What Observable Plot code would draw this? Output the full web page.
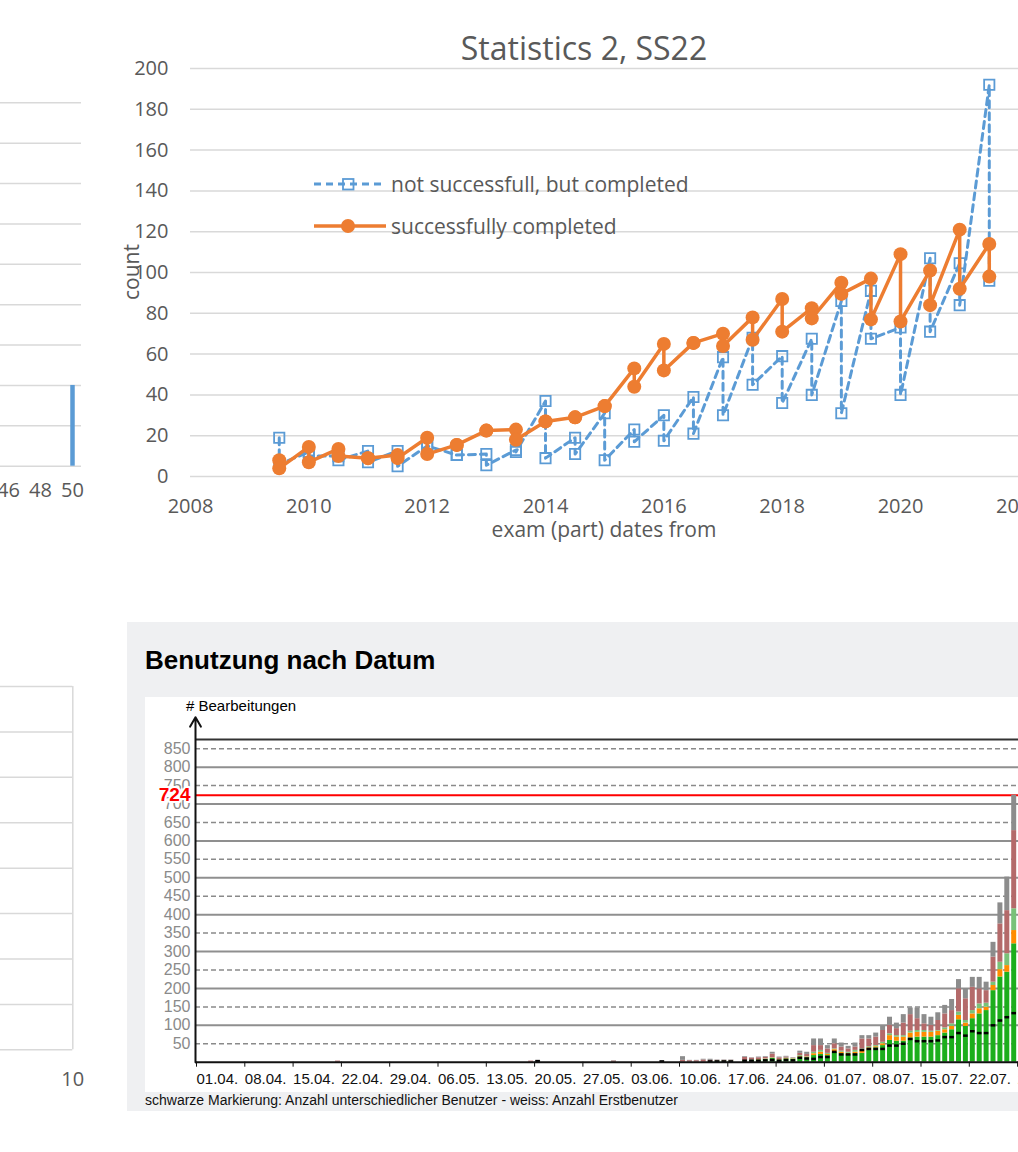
<!DOCTYPE html>
<html><head><meta charset="utf-8">
<script src="https://cdn.jsdelivr.net/npm/d3@7"></script>
<script src="https://cdn.jsdelivr.net/npm/@observablehq/plot@0.6"></script>
<style>
html,body{margin:0;padding:0;width:1018px;height:1152px;overflow:hidden;background:#fff}
body{position:relative}
.abs{position:absolute}
svg{overflow:visible}
</style></head><body>

<div id="cA" class="abs" style="left:0;top:0;width:200px"></div>
<div id="cC" class="abs" style="left:0;top:640px;width:200px"></div>
<div id="panel" class="abs" style="left:127px;top:622px;width:900px;height:489px;background:#eff0f2"></div>
<div class="abs" style="left:145px;top:697px;width:880px;height:395px;background:#fff"></div>
<div class="abs" style="left:145px;top:645px;font:bold 26px 'Liberation Sans',Arial,sans-serif;color:#000;white-space:nowrap">Benutzung nach Datum</div>
<div class="abs" style="left:186px;top:697px;font:15px 'Liberation Sans Narrow','Arial Narrow',sans-serif;color:#000;white-space:nowrap"># Bearbeitungen</div>
<div id="cD" class="abs" style="left:145px;top:697px;width:1000px"></div>
<div class="abs" style="left:145px;top:1092px;font:14px 'Liberation Sans',Arial,sans-serif;color:#111;white-space:nowrap">schwarze Markierung: Anzahl unterschiedlicher Benutzer - weiss: Anzahl Erstbenutzer</div>
<div id="cB" class="abs" style="left:0;top:0;width:1200px"></div>
<svg id="overlay" class="abs" style="left:0;top:0" width="1018" height="1152"></svg>

<script>
// ---------- Chart A (partial, top-left) ----------
const aTicks = [46, 48, 50];
const aGrid = [0, 1, 2, 3, 4, 5, 6, 7, 8, 9];
const aBarX = [50];
const aBarY = [2];

// ---------- Chart B: Statistics 2, SS22 ----------
const title = "Statistics 2, SS22";
const seriesNames = ["not successfull, but completed", "successfully completed"];
const examDates = [2009.5,2009.5,2010,2010,2010.5,2010.5,2011,2011,2011.5,2011.5,
  2012,2012,2012.5,2012.5,2013,2013,2013.5,2013.5,2014,2014,2014.5,2014.5,
  2015,2015,2015.5,2015.5,2016,2016,2016.5,2016.5,2017,2017,2017.5,2017.5,
  2018,2018,2018.5,2018.5,2019,2019,2019.5,2019.5,2020,2020,2020.5,2020.5,
  2021,2021,2021.5,2021.5];
const notSuccessful = [19,6, 12,10, 10,8, 12.5,7, 12.5,5, 15,15, 10.5,10.5, 11,5.5, 13,12,
  37,9, 19,11, 31,8, 23,17, 30,17.5, 39,21, 58.5,30, 68,45, 59,36, 67.5,40,
  86,31, 91,67.5, 73,40, 107,71, 104.5,84, 192,96];
const successful = [8,4, 14.5,7, 13.5,10, 9,9, 10.5,9, 19,11, 15.5,15.5, 22.5,22.5, 23,18,
  27,27, 29,29, 34.5,34.5, 53,44, 65,52, 65.5,65.5, 70,64, 78,67, 87,71, 82.5,77.5,
  95,89.5, 97,77, 109,76, 101,84, 121,92, 114,98];
const bYTicks = [0,20,40,60,80,100,120,140,160,180,200];
const bXTicks = [2008,2010,2012,2014,2016,2018,2020,2022,2024];

// ---------- Chart C (partial, bottom-left) ----------
const cGrid = [0,1,2,3,4,5,6,7,8];
const cTicks = [10];

// ---------- Chart D: Benutzung nach Datum ----------
const usageDates = ["21.04.","19.05.","20.05.","31.05.","07.06.","10.06.","11.06.","12.06.","13.06.",
  "14.06.","15.06.","16.06.","17.06.","19.06.","20.06.","21.06.","22.06.","23.06.","24.06.",
  "25.06.","26.06.","27.06.","28.06.","29.06.","30.06.","01.07.","02.07.","03.07.","04.07.",
  "05.07.","06.07.","07.07.","08.07.","09.07.","10.07.","11.07.","12.07.","13.07.","14.07.",
  "15.07.","16.07.","17.07.","18.07.","19.07.","20.07.","21.07.","22.07.","23.07.","24.07.",
  "25.07.","26.07.","27.07.","28.07."];
const greenVals  = [0,0,0,0,0,0,0,0,0, 2,3,3,3,4,5,6,7,10,6, 9,8,14,12,18,21,18,27,23,21,
  23,24,33,39,45,59,57,57,66,68, 68,68,72,79,88,115,97,118,131,140, 194,231,244,321];
const orangeVals = [0,0,0,0,0,0,0,0,0, 0,0,0,0,0,0,1,1,1,1, 1,1,2,2,5,6,3,7,4,3,
  4,8,6,3,5,13,11,11,13,13, 13,13,12,9,9,12,9,13,14,9, 14,20,18,36];
const lightVals  = [0,0,0,0,0,0,0,0,0, 0,0,0,0,0,1,0,1,1,0, 1,1,2,1,4,5,3,2,3,3,
  5,4,3,3,4,5,4,4,5,5, 5,3,2,5,7,9,7,9,13,11, 9,20,32,59];
const brownVals  = [3,3,1,3,1,5,4,4,6, 3,2,2,2,9,5,5,4,10,5, 3,1,6,6,18,13,12,14,11,9,
  9,27,21,23,32,23,19,34,45,32, 18,16,27,38,36,63,59,63,41,34, 68,104,117,212];
const grayVals   = [0,0,3,1,2,10,1,1,2, 3,1,1,1,2,1,2,2,5,2, 2,1,6,6,18,18,9,13,11,7,
  11,9,9,11,11,22,15,23,18,29, 25,22,21,23,30,25,27,27,31,23, 40,57,91,96];
const userVals   = [0,0,3,0,2,0,0,0,0, 2,2,2,2,4,4,4,5,6,4, 6,5,12,10,9,14,14,28,21,21,
  21,33,36,36,36,45,45,50,63,57, 57,57,59,68,68,79,72,84,79,79, 100,113,122,133];
const maxValue = [724];
const dYSolid = [100,200,300,400,500,600,700,800];
const dYDashed = [50,150,250,350,450,550,650,750,850];
const dYLabels = [50,100,150,200,250,300,350,400,450,500,550,600,650,700,750,800,850];
const dXTicks = ["01.04.","08.04.","15.04.","22.04.","29.04.","06.05.","13.05.","20.05.","27.05.",
  "03.06.","10.06.","17.06.","24.06.","01.07.","08.07.","15.07.","22.07.","29.07."];

const C = {blue:"#5b9bd5", orange:"#ed7d31", text:"#595959", grid:"#d9d9d9"};
const font = "'Open Sans', 'Noto Sans', sans-serif";
const baseStyle = {fontFamily: font, fontSize: "20px", color: C.text, background: "transparent", maxWidth: "none", overflow: "visible"};

// ===== Chart A =====
{
  const p = Plot.plot({
    width: 100, height: 540, marginLeft: 0, marginRight: 19, marginTop: 102.3, marginBottom: 74.3,
    x: {domain: [45.5, 50.5625]}, y: {domain: [0, 9]},
    style: baseStyle,
    marks: [
      Plot.ruleY(aGrid, {stroke: C.grid, strokeWidth: 1.5}),
      Plot.ruleX(aBarX, {x: d => d, y1: 0, y2: (d, i) => aBarY[i], stroke: C.blue, strokeWidth: 4.5}),
      Plot.axisX({ticks: aTicks, tickSize: 0, tickPadding: 17, tickFormat: d => String(d), label: null}),
      Plot.axisY({ticks: [], label: null})
    ]
  });
  document.getElementById("cA").append(p);
}

// ===== Chart B =====
{
  const blueRows = examDates.map((d, i) => ({date: d, v: notSuccessful[i]}));
  const orangeRows = examDates.map((d, i) => ({date: d, v: successful[i]}));
  const p = Plot.plot({
    width: 1140, height: 560, marginLeft: 190, marginRight: 3.3, marginTop: 68, marginBottom: 84,
    x: {domain: [2008, 2024]}, y: {domain: [0, 200]},
    style: baseStyle,
    marks: [
      Plot.ruleY(bYTicks, {stroke: C.grid, strokeWidth: 1.5}),
      Plot.axisY({ticks: bYTicks, tickSize: 0, tickPadding: 22, tickFormat: d => String(d), label: null}),
      Plot.axisX({ticks: bXTicks, tickSize: 0, tickPadding: 22, tickFormat: d => String(d), label: null}),
      Plot.line(blueRows, {x: "date", y: "v", stroke: C.blue, strokeWidth: 3, strokeDasharray: "7,5"}),
      Plot.dot(blueRows, {x: "date", y: "v", symbol: "square", r: 5.8, stroke: C.blue, strokeWidth: 1.8, fill: "none"}),
      Plot.line(orangeRows, {x: "date", y: "v", stroke: C.orange, strokeWidth: 3.5}),
      Plot.dot(orangeRows, {x: "date", y: "v", r: 7, fill: C.orange, stroke: "none"})
    ]
  });
  document.getElementById("cB").append(p);
}

// ===== Chart C =====
{
  const p = Plot.plot({
    width: 100, height: 470, marginLeft: 0, marginRight: 27.7, marginTop: 46, marginBottom: 60.7,
    x: {domain: [9, 10]}, y: {domain: [0, 8]},
    style: baseStyle,
    marks: [
      Plot.ruleY(cGrid, {stroke: C.grid, strokeWidth: 1.5}),
      Plot.ruleX(cTicks, {y1: 0, y2: 8, stroke: C.grid, strokeWidth: 1.5}),
      Plot.axisX({ticks: cTicks, tickSize: 0, tickPadding: 22, tickFormat: d => String(d), label: null}),
      Plot.axisY({ticks: [], label: null})
    ]
  });
  document.getElementById("cC").append(p);
}

// ===== Chart D =====
{
  const parse = s => { const [dd, mm] = s.split("."); return new Date(Date.UTC(2022, +mm - 1, +dd)); };
  const day = 864e5, pxPerDay = 6.9;
  const start = new Date(Date.UTC(2022, 3, 1) - (4 / pxPerDay) * day);
  const end = new Date(+start + (830 / pxPerDay) * day);
  const cats = [["green", greenVals, "#1cae1c"], ["orange", orangeVals, "#ff8c00"],
    ["light", lightVals, "#79c279"], ["brown", brownVals, "#b46a6a"], ["gray", grayVals, "#8c8c8c"]];
  const segs = [];
  usageDates.forEach((s, i) => {
    let acc = 0;
    for (const [name, arr, col] of cats) {
      const v = arr[i];
      if (v > 0) segs.push({date: parse(s), y1: acc, y2: acc + v, col});
      acc += v;
    }
  });
  const users = usageDates.map((s, i) => ({date: parse(s), u: userVals[i]})).filter(d => d.u > 0);
  const dash = {draw(ctx, size) { const r = Math.sqrt(size / Math.PI); ctx.moveTo(-r, 0); ctx.lineTo(r, 0); }};
  const narrow = "'Liberation Sans Narrow', 'Arial Narrow', 'Liberation Sans', sans-serif";
  const p = Plot.plot({
    width: 880, height: 395, marginLeft: 50, marginRight: 0, marginTop: 42, marginBottom: 30.3,
    x: {type: "utc", domain: [start, end]}, y: {domain: [0, 875]},
    color: {type: "identity"},
    style: {...baseStyle, fontFamily: narrow, fontSize: "15px", color: "#222"},
    marks: [
      Plot.ruleY(dYDashed, {stroke: "#8a8a8a", strokeWidth: 1.5, strokeDasharray: "5,3"}),
      Plot.ruleY(dYSolid, {stroke: "#8f8f8f", strokeWidth: 2}),
      Plot.ruleY([875], {stroke: "#333", strokeWidth: 2}),
      Plot.ruleY(maxValue, {stroke: "#ff0000", strokeWidth: 2}),
      Plot.ruleX(segs, {x: "date", y1: "y1", y2: "y2", stroke: "col", strokeWidth: 5}),
      Plot.dot(users, {x: "date", y: "u", symbol: dash, r: 2.3, stroke: "#000", strokeWidth: 2.5, fill: "none"}),
      Plot.ruleY([0], {stroke: "#111", strokeWidth: 2}),
      Plot.arrow([0], {x1: () => start, x2: () => start, y1: 0, y2: 935, stroke: "#111", strokeWidth: 2, headLength: 8, clip: false}),
      Plot.axisY({ticks: dYLabels, tickSize: 0, tickPadding: 5, fill: "#8a8a8a", fontSize: 16, label: null}),
      Plot.text(maxValue, {x: () => start, y: d => d, text: d => String(d), textAnchor: "end", dx: -5,
        fill: "#ff0000", fontWeight: "bold", fontSize: 19, fontFamily: "'Liberation Sans', Arial, sans-serif",
        stroke: "#fff", strokeWidth: 4}),
      Plot.axisX({ticks: dXTicks.map(parse), tickSize: 5, tickPadding: 6, tickFormat: d3.utcFormat("%d.%m."),
        textAnchor: "start", dx: -3, fill: "#111", stroke: "#111", label: null})
    ]
  });
  document.getElementById("cD").append(p);
}

// ===== Overlay texts for chart B =====
{
  const svg = d3.select("#overlay");
  const T = (x, y, s, size, extra = {}) => {
    const t = svg.append("text").attr("x", x).attr("y", y).text(s)
      .attr("font-family", "Open Sans, Noto Sans, sans-serif").attr("font-size", size)
      .attr("fill", C.text).attr("dominant-baseline", "central");
    for (const k in extra) t.attr(k, extra[k]);
    return t;
  };
  T(584, 47, title, 32, {"text-anchor": "middle"});
  T(0, 0, "count", 21, {"text-anchor": "middle", transform: "translate(131,272) rotate(-90)"});
  T(604, 529, "exam (part) dates from", 21, {"text-anchor": "middle"});
  // legend
  const g = svg.append("g");
  g.append("line").attr("x1", 314).attr("x2", 386).attr("y1", 184).attr("y2", 184)
    .attr("stroke", C.blue).attr("stroke-width", 3).attr("stroke-dasharray", "7,5");
  g.append("rect").attr("x", 343).attr("y", 179).attr("width", 10.5).attr("height", 10.5)
    .attr("fill", "none").attr("stroke", C.blue).attr("stroke-width", 1.8);
  g.append("line").attr("x1", 314).attr("x2", 386).attr("y1", 226).attr("y2", 226)
    .attr("stroke", C.orange).attr("stroke-width", 3.5);
  g.append("circle").attr("cx", 348).attr("cy", 226).attr("r", 7).attr("fill", C.orange);
  T(391, 184, seriesNames[0], 21);
  T(391, 226, seriesNames[1], 21);
}
</script>
</body></html>
